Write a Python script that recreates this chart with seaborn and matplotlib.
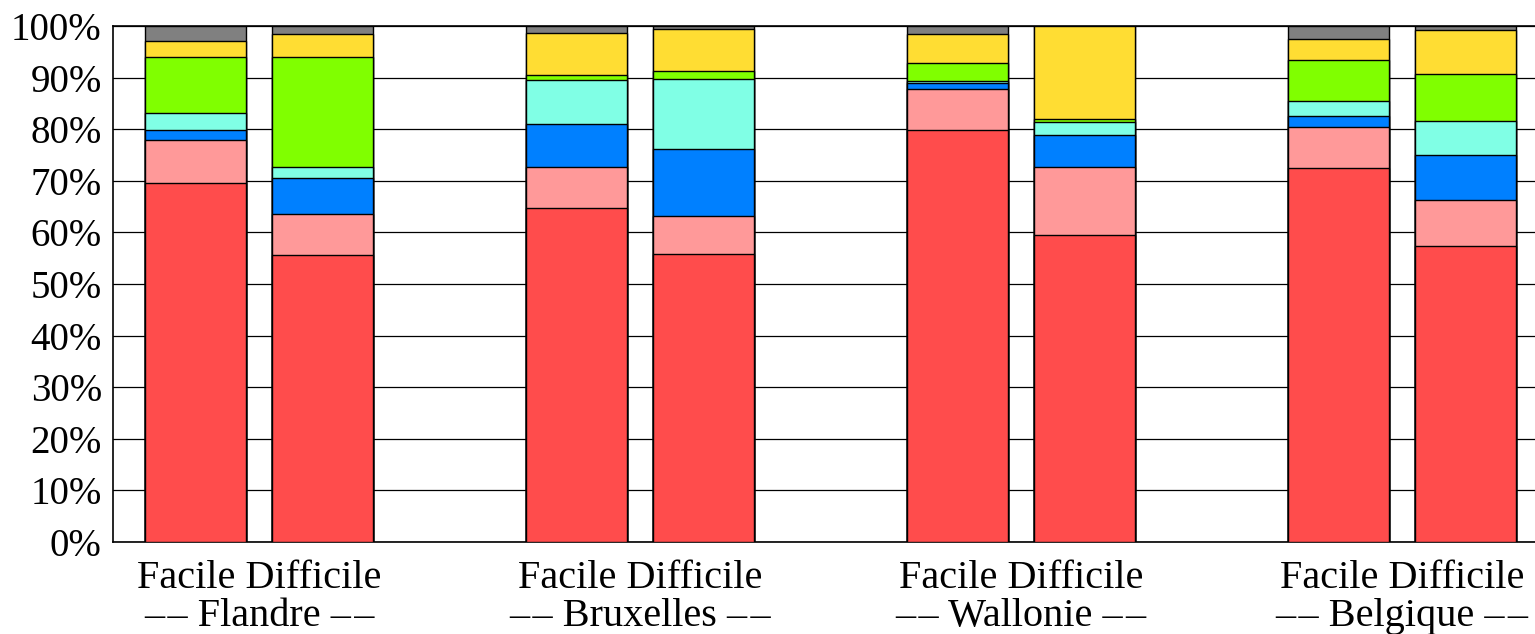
import numpy as np
import pandas as pd
import seaborn as sns
import matplotlib.pyplot as plt

regions = ['Flandre', 'Bruxelles', 'Wallonie', 'Belgique']
levels = ['Facile', 'Difficile']

# one value per bar: Flandre F/D, Bruxelles F/D, Wallonie F/D, Belgique F/D
red = [69.6, 55.6, 64.7, 55.8, 79.8, 59.5, 72.5, 57.4]
pink = [8.4, 8.0, 8.0, 7.3, 8.05, 13.1, 8.0, 8.8]
blue = [1.8, 7.0, 8.4, 13.1, 1.05, 6.3, 2.1, 8.85]
cyan = [3.4, 2.1, 8.4, 13.5, 0.4, 2.4, 2.8, 6.6]
green = [10.85, 21.35, 1.0, 1.5, 3.6, 0.6, 7.95, 9.05]
yellow = [3.1, 4.4, 8.1, 8.2, 5.55, 18.1, 4.15, 8.5]
gray = [2.85, 1.55, 1.4, 0.6, 1.55, 0.0, 2.5, 0.8]

layers = [red, pink, blue, cyan, green, yellow, gray]
colors = ['#ff4c4c', '#ff9999', '#0080ff', '#80ffe5', '#80ff00', '#ffdd33', '#808080']

# bar positions: pairs of bars, groups spaced by 3
pos = [g * 3 + i for g in range(len(regions)) for i in range(len(levels))]

sns.set_style('white')
plt.rcParams['font.family'] = ['Liberation Serif', 'DejaVu Serif']

fig = plt.figure(figsize=(15.35, 6.34), dpi=100)
ax = fig.add_axes([0.0736, 0.1451, 0.93, 0.8139])

cum = np.cumsum(np.array(layers), axis=0)
df = pd.DataFrame({'pos': pos})

# draw cumulative totals from the top layer down so each overlays the next
for k in range(len(layers) - 1, -1, -1):
    df['val'] = cum[k]
    sns.barplot(data=df, x='pos', y='val', native_scale=True, width=0.8,
                color=colors[k], saturation=1, edgecolor='black',
                linewidth=1.0, ax=ax, zorder=3)

dash = '–\u200a–'
ax.set_ylim(0, 100)
ax.set_xlim(-0.65, 10.59)
ax.set_yticks(range(0, 101, 10))
ax.set_yticklabels([f'{v}%' for v in range(0, 101, 10)], fontsize=28)
ax.set_xticks([g * 3 + 0.5 for g in range(len(regions))])
ax.set_xticklabels([f'Facile Difficile\n{dash} {r} {dash}' for r in regions],
                   linespacing=1.05, fontsize=29)
ax.tick_params(axis='both', length=0, colors='black')
ax.tick_params(axis='y', pad=8)
ax.tick_params(axis='x', pad=13)
ax.set_xlabel('')
ax.set_ylabel('')

ax.yaxis.grid(True, color='black', linewidth=0.9)
ax.set_axisbelow(True)
for s in ['left', 'bottom', 'top']:
    ax.spines[s].set_color('black')
    ax.spines[s].set_linewidth(1.2)
ax.spines['right'].set_visible(False)

plt.savefig('out.png', dpi=100)
plt.close()
